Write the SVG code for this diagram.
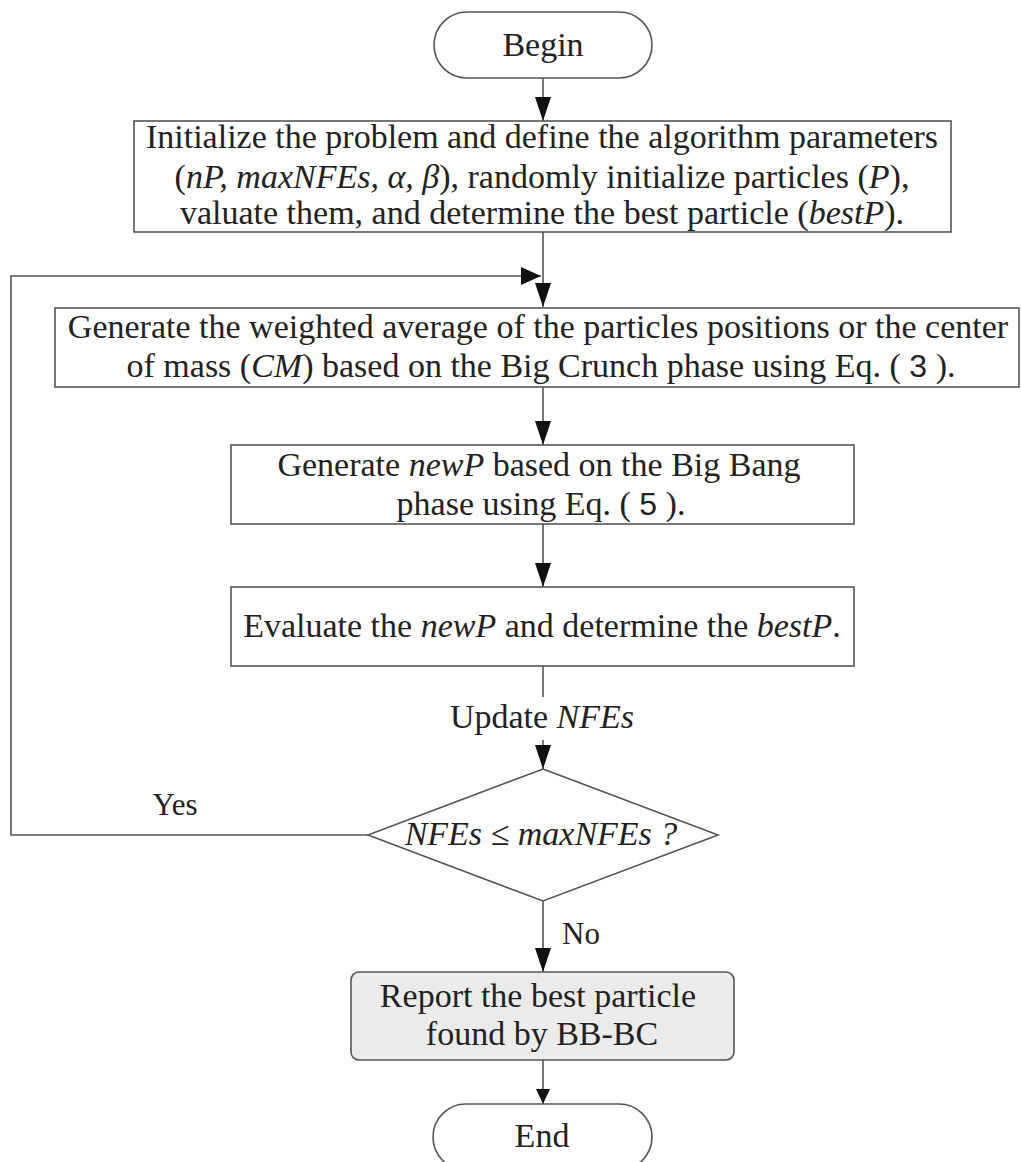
<svg xmlns="http://www.w3.org/2000/svg" width="1021" height="1162" viewBox="0 0 1021 1162">
<style>
.shape{fill:#fff;stroke:#555;stroke-width:1.6}
.report{fill:#ebebeb;stroke:#555;stroke-width:1.6}
.t{font-family:"Liberation Serif","Times New Roman",serif;font-size:34px;fill:#222;text-anchor:middle}
.lbl{font-size:31px}
.it{font-style:italic}
.sans{font-family:"Liberation Sans",Arial,sans-serif;font-style:normal;font-size:32px}
.conn{fill:none;stroke:#555;stroke-width:1.6}
</style>
<defs>
<marker id="arr" markerUnits="userSpaceOnUse" markerWidth="26" markerHeight="16" viewBox="0 0 26 16" refX="24" refY="8" orient="auto">
<path d="M0,0 L24,8 L0,16 Z" fill="#111"/>
</marker>
<marker id="arrR" markerUnits="userSpaceOnUse" markerWidth="22" markerHeight="20" viewBox="0 0 22 20" refX="20" refY="10" orient="auto">
<path d="M0,1 L20,10 L0,19 Z" fill="#111"/>
</marker>
<marker id="arrS" markerUnits="userSpaceOnUse" markerWidth="16" markerHeight="16" viewBox="0 0 16 16" refX="15" refY="8" orient="auto">
<path d="M0,1 L15,8 L0,15 Z" fill="#111"/>
</marker>
</defs>

<g id="connectors">
<path class="conn" d="M543,78 L543,121" marker-end="url(#arr)"/>
<path class="conn" d="M543,232 L543,307" marker-end="url(#arr)"/>
<path class="conn" d="M368,835 L11,835 L11,276 L541,276" marker-end="url(#arrR)"/>
<path class="conn" d="M543,387 L543,445" marker-end="url(#arr)"/>
<path class="conn" d="M543,524 L543,587" marker-end="url(#arr)"/>
<path class="conn" d="M543,666 L543,697"/>
<path class="conn" d="M543,740 L543,769" marker-end="url(#arr)"/>
<path class="conn" d="M543,901 L543,972" marker-end="url(#arr)"/>
<path class="conn" d="M543,1060 L543,1104" marker-end="url(#arrS)"/>
<text class="t lbl" x="175" y="815">Yes</text>
<text class="t lbl" x="581" y="944">No</text>
<text class="t" x="542" y="728">Update <tspan class="it">NFEs</tspan></text>
</g>

<g id="begin">
<rect class="shape" x="434" y="12" width="218" height="66" rx="33" ry="33"/>
<text class="t" x="543" y="56">Begin</text>
</g>

<g id="init">
<rect class="shape" x="134" y="121" width="817" height="111"/>
<text class="t" x="542" y="148">Initialize the problem and define the algorithm parameters</text>
<text class="t" x="542" y="188">(<tspan class="it">nP, maxNFEs, α, β</tspan>), randomly initialize particles (<tspan class="it">P</tspan>),</text>
<text class="t" x="542" y="224">valuate them, and determine the best particle (<tspan class="it">bestP</tspan>).</text>
</g>

<g id="crunch">
<rect class="shape" x="55" y="308" width="964" height="79"/>
<text class="t" x="538" y="338">Generate the weighted average of the particles positions or the center</text>
<text class="t" x="541" y="377">of mass (<tspan class="it">CM</tspan>) based on the Big Crunch phase using Eq. ( <tspan class="sans">3</tspan> ).</text>
</g>

<g id="bang">
<rect class="shape" x="231" y="445" width="623" height="79"/>
<text class="t" x="539" y="476">Generate <tspan class="it">newP</tspan> based on the Big Bang</text>
<text class="t" x="541" y="515">phase using Eq. ( <tspan class="sans">5</tspan> ).</text>
</g>

<g id="evaluate">
<rect class="shape" x="231" y="587" width="623" height="79"/>
<text class="t" x="542" y="637">Evaluate the <tspan class="it">newP</tspan> and determine the <tspan class="it">bestP</tspan>.</text>
</g>

<g id="decision">
<polygon class="shape" points="543,769 718,835 543,901 368,835"/>
<text class="t it" x="541" y="845">NFEs ≤ maxNFEs ?</text>
</g>

<g id="report">
<rect class="report" x="351" y="972" width="383" height="88" rx="8" ry="8"/>
<text class="t" x="538" y="1007">Report the best particle</text>
<text class="t" x="542" y="1045">found by BB-BC</text>
</g>

<g id="end">
<rect class="shape" x="433" y="1104" width="219" height="66" rx="33" ry="33"/>
<text class="t" x="542" y="1147">End</text>
</g>
</svg>
